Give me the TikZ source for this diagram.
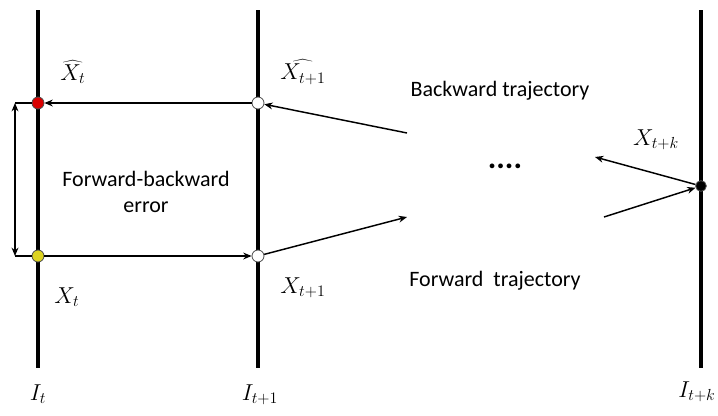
\documentclass[tikz,border=0pt]{standalone}
\usepackage{fontspec}
\setmainfont{Carlito}
\usetikzlibrary{arrows.meta, positioning}

\begin{document}
\begin{tikzpicture}[x=0.75pt, y=-0.75pt,
    frame/.style={line width=3pt},
    pt/.style={circle, draw=black!70, line width=0.6pt, inner sep=0pt, minimum size=9pt},
    link/.style={line width=1.1pt, -{Stealth[length=2.2mm, width=1.8mm]}},
    txt/.style={font=\fontsize{16.5}{19}\selectfont, align=center},
    lbl/.style={font=\fontsize{17}{19}\selectfont, inner sep=1pt}]
        \useasboundingbox (0,0) rectangle (718,415);
        % time frames
        \draw[frame] (38,10) -- (38,368);
        \draw[frame] (258,10) -- (258,368);
        \draw[frame] (701,10) -- (701,368);
        \node[lbl] (it) at (38,394) {$I_t$};
        \node[lbl] (it1) at (260,395) {$I_{t+1}$};
        \node[lbl] (itk) at (697,392) {$I_{t+k}$};

        % points
        \node[pt, fill=red!85!black] (xhat) at (38,103) {};
        \node[pt, fill=yellow!85!black] (x) at (38,256) {};
        \node[pt, fill=white] (xhat1) at (258,103) {};
        \node[pt, fill=white] (x1) at (258,256) {};
        \node[pt, fill=black, minimum size=8pt] (xk) at (701,186) {};

        \node[lbl] (lxhat) at (73,72) {$\widehat{X_t}$};
        \node[lbl] (lxhat1) at (303,72) {$\widehat{X_{t+1}}$};
        \node[lbl] (lx) at (67,297) {$X_t$};
        \node[lbl] (lx1) at (303,288) {$X_{t+1}$};
        \node[lbl] (lxk) at (656,140) {$X_{t+k}$};

        \node[txt] (err) at (146,192) {Forward-backward\\error};
        \node[txt] (bw) at (500,91) {Backward trajectory};
        \node[txt] (fw) at (495,281) {Forward~ trajectory};
        \node[font=\fontsize{24}{24}\selectfont\bfseries] (dots) at (505,166) {....};

        % free ends
        \coordinate (bwin) at (407,133);
        \coordinate (fwout) at (407,217);
        \coordinate (kout) at (595,157);
        \coordinate (kin) at (604,217);
        \coordinate (eu) at (15,103);
        \coordinate (el) at (15,256);

        \draw[link] (xhat1) -- (xhat);
        \draw[link] (x) -- (x1);
        \draw[link] (bwin) -- (xhat1);
        \draw[link] (x1) -- (fwout);
        \draw[link] (xk) -- (kout);
        \draw[link] (kin) -- (xk);

        % error
        \draw[line width=1.1pt] (eu) -- (xhat);
        \draw[line width=1.1pt] (el) -- (x);
        \draw[line width=1.1pt, {Stealth[length=2.2mm, width=1.8mm]}-{Stealth[length=2.2mm, width=1.8mm]}] (eu) -- (el);
        \end{tikzpicture}
\end{document}
